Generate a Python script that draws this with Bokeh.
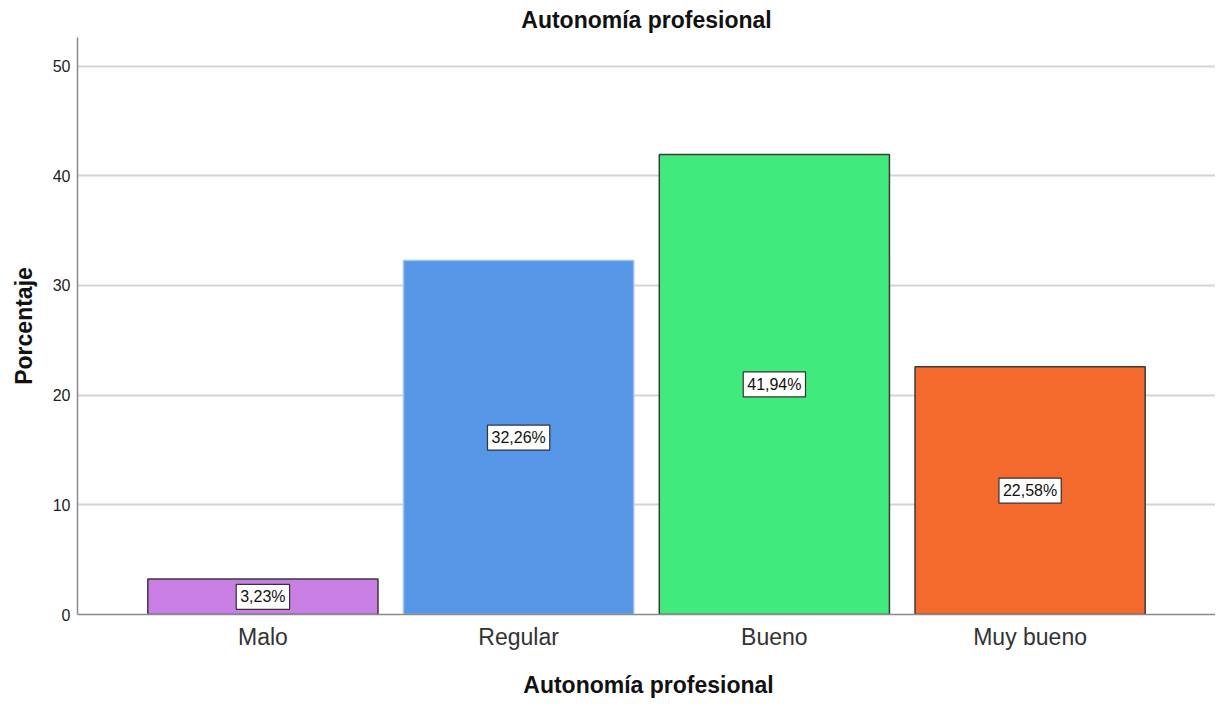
from bokeh.plotting import figure
from bokeh.models import Range1d, FixedTicker, Label, Div
from bokeh.layouts import column
from bokeh.embed import file_html
from bokeh.resources import INLINE

categories = ["Malo", "Regular", "Bueno", "Muy bueno"]
percentages = [3.23, 32.26, 41.94, 22.58]
label_texts = ["3,23%", "32,26%", "41,94%", "22,58%"]
bar_colors = ["#C97EE3", "#5596E6", "#41EA7C", "#F36A2C"]
edge_colors = ["#3A3A3A", "#9CC2F0", "#3A3A3A", "#3A3A3A"]
y_ticks = [0, 10, 20, 30, 40, 50]
x_title = "Autonomía profesional"
y_title = "Porcentaje"
chart_title = "Autonomía profesional"

xs = list(range(len(categories)))
x_lo, x_hi = -0.725, len(categories) - 1 + 0.725

p = figure(width=1215, height=656, output_backend="svg", toolbar_location=None,
           x_range=Range1d(x_lo, x_hi),
           y_range=Range1d(0, 52.6),
           min_border_left=77, min_border_right=0, min_border_top=30, min_border_bottom=42)

p.title.text = chart_title
p.title.align = "center"
p.title.text_font = "Liberation Sans"
p.title.text_font_size = "23px"
p.title.text_font_style = "bold"
p.title.text_color = "#111111"
p.title.standoff = 9

p.vbar(x=xs, top=percentages, width=0.9, fill_color=bar_colors,
       line_color=edge_colors, line_width=1.5)

for x, v, t in zip(xs, percentages, label_texts):
    p.add_layout(Label(x=x, y=v / 2, text=t, text_align="center", text_baseline="middle",
                       text_font="Liberation Sans", text_font_size="16px", text_color="#111111",
                       background_fill_color="white", border_line_color="#333333",
                       border_line_width=1.2, padding=4))

p.outline_line_color = None
p.background_fill_color = "white"
p.border_fill_color = "white"

p.xgrid.grid_line_color = None
p.ygrid.grid_line_color = "#D4D4D4"
p.ygrid.grid_line_width = 2
p.ygrid.ticker = FixedTicker(ticks=y_ticks)

p.xaxis.ticker = FixedTicker(ticks=xs)
p.xaxis.major_label_overrides = {i: c for i, c in zip(xs, categories)}
p.xaxis.major_label_text_font = "Liberation Sans"
p.xaxis.major_label_text_font_size = "23px"
p.xaxis.major_label_text_color = "#333333"
p.xaxis.major_label_standoff = 9

p.yaxis.ticker = FixedTicker(ticks=y_ticks)
p.yaxis.major_label_text_font = "Liberation Sans"
p.yaxis.major_label_text_font_size = "16px"
p.yaxis.major_label_text_color = "#222222"
p.yaxis.major_label_standoff = 7
p.yaxis.axis_label = y_title
p.yaxis.axis_label_text_font = "Liberation Sans"
p.yaxis.axis_label_text_font_size = "23px"
p.yaxis.axis_label_text_font_style = "bold"
p.yaxis.axis_label_text_color = "#111111"
p.yaxis.axis_label_standoff = 13

for ax in (p.xaxis, p.yaxis):
    ax.major_tick_line_color = None
    ax.minor_tick_line_color = None
    ax.major_tick_out = 0
    ax.major_tick_in = 0
    ax.minor_tick_out = 0
    ax.minor_tick_in = 0
    ax.axis_line_color = "#8A8A8A"
    ax.axis_line_width = 1.5

x_title_div = Div(
    text=('<div style="margin-left:72px; width:1143px; padding-top:13px; '
          'text-align:center; white-space:nowrap; font-family:\'Liberation Sans\'; '
          'font-size:23px; font-weight:bold; line-height:22px; color:#111111;">'
          + x_title + '</div>'),
    width=1215, height=35)

layout = column(p, x_title_div, spacing=0)

open("out.html", "w").write(file_html(layout, INLINE))
